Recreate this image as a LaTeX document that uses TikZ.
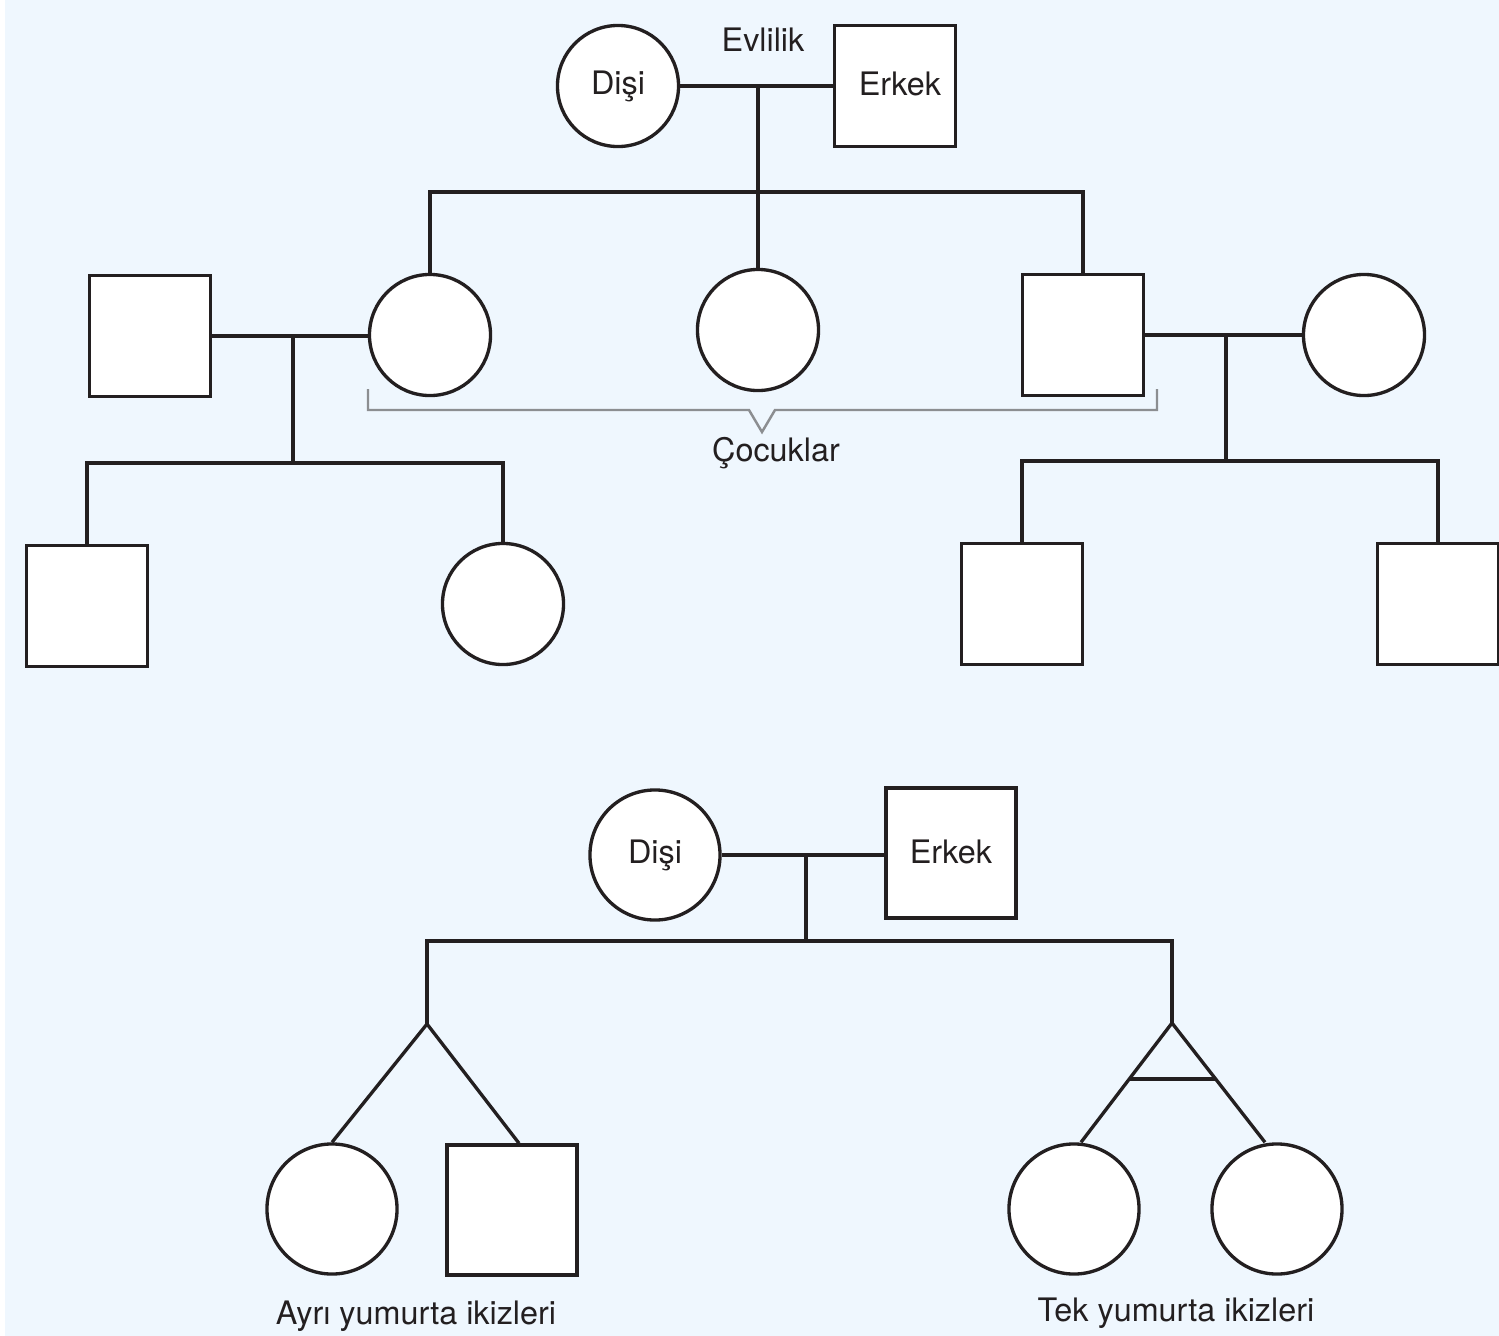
\documentclass[tikz,border=0pt]{standalone}
\usepackage{fontspec}
\setmainfont{TeX Gyre Heros}
\usetikzlibrary{calc}
\definecolor{ink}{RGB}{35,31,32}
\definecolor{paper}{RGB}{239,247,254}
\definecolor{bracegray}{RGB}{140,142,145}
\tikzstyle{female}=[circle,draw=ink,fill=white,line width=0.95pt,inner sep=0pt,minimum size=1.21cm,text=ink]
\tikzstyle{male}=[rectangle,draw=ink,fill=white,line width=0.95pt,inner sep=0pt,minimum size=1.21cm,text=ink]
\tikzstyle{big}=[minimum size=1.3cm]
\tikzstyle{label}=[text=ink,inner sep=0pt]
\tikzstyle{line}=[draw=ink,line width=0.95pt]

\begin{document}
\begin{tikzpicture}[x=0.01cm,y=-0.01cm,font=\fontsize{9.2}{11}\selectfont]
		\useasboundingbox (0,0) rectangle (1499,1336);
		\fill[white] (0,0) rectangle (1499,1336);
		\fill[paper] (5,0) rectangle (1499,1336);

		% first family
		\node (f0) at (618,86) [female] {Dişi};
		\node (m0) at (895,86) [male] {\raisebox{0.04cm}{\hspace{0.1cm}Erkek}};
		\node (evl) at (763,40) [label] {Evlilik};
		\coordinate (j0) at (758,86);
		\coordinate (b1) at (430,192);
		\coordinate (b3) at (1083,192);

		\node (c1) at (430,335) [female] {};
		\node (c2) at (758,330) [female] {};
		\node (c3) at (1083,335) [male] {};

		\node (s1) at (150,336) [male] {};
		\coordinate (j1) at (293,336);
		\coordinate (b11) at (87,463);
		\coordinate (b12) at (293,463);
		\coordinate (b13) at (503,463);
		\node (g1) at (87,606) [male] {};
		\node (g2) at (503,604) [female] {};

		\node (s3) at (1364,335) [female] {};
		\coordinate (j3) at (1226,335);
		\coordinate (b31) at (1022,461);
		\coordinate (b32) at (1226,461);
		\coordinate (b33) at (1438,461);
		\node (g3) at (1022,604) [male] {};
		\node (g4) at (1438,604) [male] {};

		\node (kids) at (776,453) [label] {Çocuklar};

		\draw[line] (f0) -- (m0);
		\draw[line] (j0) -- (c2);
		\draw[line] (c1) -- (b1) -- (b3) -- (c3);

		\draw[line] (s1) -- (c1.west |- s1);
		\draw[line] (j1) -- (b12);
		\draw[line] (g1) -- (b11) -- (b13) -- (g2);

		\draw[line] (c3) -- (s3);
		\draw[line] (j3) -- (b32);
		\draw[line] (g3) -- (b31) -- (b33) -- (g4);

		\draw[bracegray,line width=0.7pt] (368,389) -- (368,410) -- (749,410) -- (762,432) -- (775,410) -- (1157,410) -- (1157,389);

		% second family
		\node (f1) at (655,855) [female,big] {Dişi};
		\node (m1) at (951,853) [male,big] {\raisebox{0.03cm}{Erkek}};
		\coordinate (j2) at (806,855);
		\coordinate (d1) at (427,941);
		\coordinate (d2) at (806,941);
		\coordinate (d3) at (1172,941);
		\coordinate (a1) at (427,1024);
		\coordinate (a2) at (1172,1023);

		\node (t1) at (332,1209) [female,big] {};
		\node (t2) at (512,1210) [male,big] {};
		\node (t3) at (1074,1209) [female,big] {};
		\node (t4) at (1277,1209) [female,big] {};

		\node (fr) at (416,1316) [label] {Ayrı yumurta ikizleri};
		\node (id) at (1176,1313) [label] {Tek yumurta ikizleri};

		\draw[line] (f1) -- (m1.west |- f1);
		\draw[line] (j2) -- (d2);
		\draw[line] (a1) -- (d1) -- (d3) -- (a2);
		\draw[line] (t1.north) -- (a1) -- ([xshift=0.07cm]t2.north);
		\draw[line] ([xshift=0.07cm]t3.north) -- (a2) -- ([xshift=-0.12cm]t4.north);
		\draw[line] ($(a2)!0.47!([xshift=0.07cm]t3.north)$) -- ($(a2)!0.47!([xshift=-0.12cm]t4.north)$);
	\end{tikzpicture}
\end{document}
